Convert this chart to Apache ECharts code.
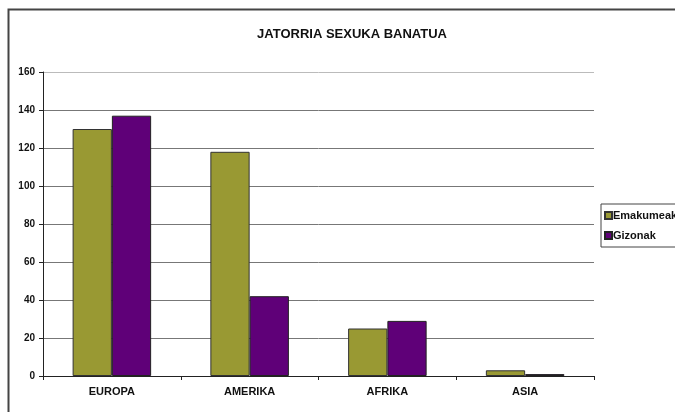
<!DOCTYPE html>
<html>
<head>
<meta charset="utf-8">
<script src="https://cdn.jsdelivr.net/npm/echarts@6/dist/echarts.min.js"></script>
<style>
  html, body { margin: 0; padding: 0; background: #fff; }
  #chart { width: 675px; height: 412px; }
</style>
</head>
<body>
<div id="chart"></div>
<script>
const categories = ["EUROPA", "AMERIKA", "AFRIKA", "ASIA"];
const emakumeak = [130, 118, 25, 3];
const gizonak = [137, 42, 29, 1];
const yTicks = [0, 20, 40, 60, 80, 100, 120, 140, 160];

const font = "'Liberation Sans', Arial, sans-serif";
const chart = echarts.init(document.getElementById("chart"));

chart.setOption({
  animation: false,
  backgroundColor: "#fff",
  title: {
    text: "JATORRIA SEXUKA BANATUA",
    left: 347,
    top: 23,
    textAlign: "center",
    textStyle: { fontFamily: font, fontSize: 13, fontWeight: "bold", color: "#111" },
  },
  graphic: [
    {
      // chart frame, partly outside the page
      type: "rect",
      shape: { x: 8.5, y: 9.5, width: 700, height: 420 },
      style: { fill: "none", stroke: "#444", lineWidth: 2 },
      silent: true,
    },
  ],
  legend: {
    orient: "vertical",
    left: 601,
    top: 204,
    itemWidth: 7,
    itemHeight: 7,
    itemGap: 9,
    padding: [6, 6, 6, 3],
    borderColor: "#444",
    borderWidth: 1,
    icon: "rect",
    textStyle: { fontFamily: font, fontSize: 11, fontWeight: "bold", color: "#111", padding: [0, 0, 0, -4] },
    data: ["Emakumeak", "Gizonak"],
  },
  grid: { left: 43, right: 81, top: 72, bottom: 36 },
  xAxis: {
    type: "category",
    data: categories,
    axisLine: { lineStyle: { color: "#222", width: 1 } },
    axisTick: { show: true, inside: false, length: 4, lineStyle: { color: "#222" } },
    axisLabel: { fontFamily: font, fontSize: 11, fontWeight: "bold", color: "#111", margin: 10 },
  },
  yAxis: {
    type: "value",
    min: 0,
    max: 160,
    interval: 20,
    axisLine: { show: true, lineStyle: { color: "#222" } },
    axisTick: { show: true, length: 4, lineStyle: { color: "#222" } },
    axisLabel: {
      fontFamily: font,
      fontSize: 10,
      fontWeight: "bold",
      color: "#111",
      margin: 8,
      formatter: (v) => (yTicks.includes(v) ? String(v) : ""),
    },
    splitLine: {
      show: true,
      lineStyle: { color: ["#777", "#777", "#777", "#777", "#777", "#777", "#777", "#777", "#bbb"], width: 1 },
    },
  },
  series: [
    {
      name: "Emakumeak",
      type: "bar",
      data: emakumeak,
      barGap: "0%",
      barCategoryGap: "43%",
      itemStyle: { color: "#999933", borderColor: "#333", borderWidth: 1 },
    },
    {
      name: "Gizonak",
      type: "bar",
      data: gizonak,
      barGap: "0%",
      barCategoryGap: "43%",
      itemStyle: { color: "#5f0078", borderColor: "#222", borderWidth: 1 },
    },
  ],
});
</script>
</body>
</html>
